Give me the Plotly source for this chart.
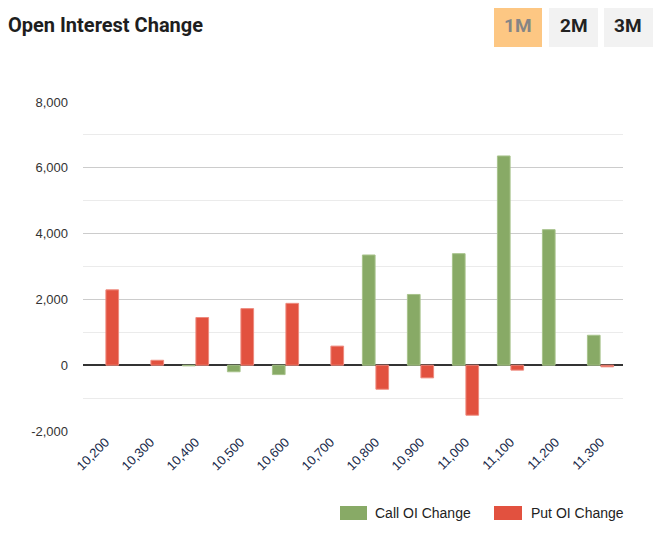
import plotly.graph_objects as go

strikes = ["10,200", "10,300", "10,400", "10,500", "10,600", "10,700",
           "10,800", "10,900", "11,000", "11,100", "11,200", "11,300"]
call_oi_change = [0, 0, -20, -200, -285, 0, 3350, 2150, 3390, 6360, 4120, 910]
put_oi_change = [2290, 150, 1450, 1720, 1880, 580, -730, -385, -1520, -150, 0, -50]

y_tickvals = [-2000, 0, 2000, 4000, 6000, 8000]
y_ticktext = ["-2,000", "0", "2,000", "4,000", "6,000", "8,000"]

buttons = ["1M", "2M", "3M"]
series_names = ["Call OI Change", "Put OI Change"]
series_colors = ["#88aa66", "#e2513f"]
series_edges = ["#a8c38c", "#ee8a7e"]

# page is shown with an 8px body margin: work in page coordinates and convert
OFF = 8
W, H = 663 - OFF, 537 - OFF
PL, PR, PT, PB = 83, 623, 102, 431  # plot area in page coordinates
L, T = PL - OFF, PT - OFF
R = (OFF + W) - PR
B = (OFF + H) - PB
pw, ph = PR - PL, PB - PT

def px(x):
    return (x - PL) / pw

def py(y):
    return (PB - y) / ph

fig = go.Figure()
for vals, name, col, edge in zip([call_oi_change, put_oi_change], series_names,
                                 series_colors, series_edges):
    widths = [0 if v == 0 else 1 for v in vals]
    fig.add_trace(go.Bar(x=strikes, y=vals, name=name, showlegend=False,
                         marker=dict(color=col, line=dict(color=edge, width=widths))))

shapes = []
annotations = []
btn_pos = [(494, 542), (549, 598), (604, 653)]
btn_bg = ["#fdc783", "#f2f2f2", "#f2f2f2"]
btn_fc = ["#858585", "#222222", "#222222"]
for (x0, x1), bg, fc, lab in zip(btn_pos, btn_bg, btn_fc, buttons):
    shapes.append(dict(type="rect", xref="paper", yref="paper",
                       x0=px(x0), x1=px(x1), y0=py(47), y1=py(3),
                       fillcolor=bg, line=dict(width=0), layer="below"))
    annotations.append(dict(text=lab, xref="paper", yref="paper",
                            x=px((x0 + x1) / 2), y=py(25), showarrow=False,
                            xanchor="center", yanchor="middle",
                            font=dict(family="Roboto", size=19, color=fc, weight="bold")))
annotations.append(dict(text="Open Interest Change", xref="paper", yref="paper",
                        x=px(8), y=py(25), showarrow=False, xanchor="left", yanchor="middle",
                        xshift=-2,
                        font=dict(family="Roboto", size=20, color="#1e1e1e", weight="bold")))

# legend (drawn manually to match wide swatches)
leg = [(340, 367, 373), (494, 522, 529)]
for (x0, x1, tx), name, col in zip(leg, series_names, series_colors):
    shapes.append(dict(type="rect", xref="paper", yref="paper",
                       x0=px(x0), x1=px(x1), y0=py(520), y1=py(506),
                       fillcolor=col, line=dict(width=0)))
    annotations.append(dict(text=name, xref="paper", yref="paper",
                            x=px(tx), y=py(513), showarrow=False,
                            xanchor="left", yanchor="middle",
                            font=dict(family="Arial", size=14, color="#222222")))

fig.update_layout(
    width=W, height=H,
    margin=dict(l=L, r=R, t=T, b=B, autoexpand=False),
    paper_bgcolor="white", plot_bgcolor="white",
    barmode="group", bargap=0.4, bargroupgap=0.06,
    font=dict(family="Arial", size=13, color="#333333"),
    shapes=shapes, annotations=annotations,
    showlegend=False,
    xaxis=dict(tickangle=-45, tickfont=dict(family="Arial", size=13, color="#1a2a4a"),
               showgrid=False, showline=False, ticks="", automargin=False),
    yaxis=dict(range=[-2000, 8000], tickvals=y_tickvals, ticktext=y_ticktext,
               showgrid=True, gridcolor="#cccccc", gridwidth=1,
               zeroline=True, zerolinecolor="#333333", zerolinewidth=1.5,
               minor=dict(dtick=1000, showgrid=True, gridcolor="#ebebeb", gridwidth=1),
               tickfont=dict(family="Arial", size=13, color="#333333"),
               ticks="", ticklabelstandoff=14, automargin=False),
)

fig.write_html("out.html")
